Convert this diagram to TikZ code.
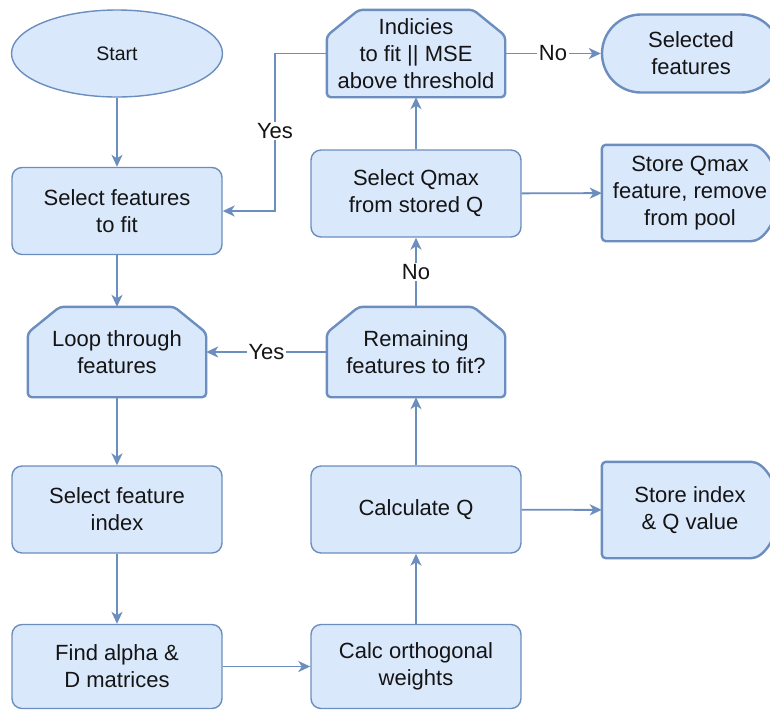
\documentclass[tikz,border=0pt]{standalone}
\usepackage{fontspec}
\setmainfont{Liberation Sans}
\usetikzlibrary{arrows.meta,shapes.geometric}
\definecolor{boxfill}{HTML}{DAE8FC}
\definecolor{boxline}{HTML}{6C8EBF}
\definecolor{ink}{HTML}{141414}
\pgfdeclarelayer{bg}
\pgfsetlayers{bg,main}

% frame of a loop-limit box: top corners cut off
\newcommand\chamferframe[1]{%
  \begin{pgfonlayer}{bg}
    \draw[heavyframe]
      ([yshift=-26pt]#1.north west) -- ([xshift=32pt]#1.north west)
      -- ([xshift=-32pt]#1.north east) -- ([yshift=-26pt]#1.north east)
      -- (#1.south east) -- (#1.south west) -- cycle;
  \end{pgfonlayer}}

% frame of a storage box: flat left side, bulging right side
\newcommand\delayframe[1]{%
  \begin{pgfonlayer}{bg}
    \draw[heavyframe]
      ([xshift=-31pt]#1.north east)
      .. controls ([xshift=-14pt]#1.north east) and ([yshift=26pt]#1.east) .. (#1.east)
      .. controls ([yshift=-26pt]#1.east) and ([xshift=-14pt]#1.south east) .. ([xshift=-31pt]#1.south east)
      -- (#1.south west) -- (#1.north west) -- cycle;
  \end{pgfonlayer}}

\begin{document}
\begin{tikzpicture}[x=1pt,y=-1pt,
  every node/.style={font=\fontsize{22}{27}\selectfont, text=ink, align=center, inner sep=0pt},
  proc/.style={draw=boxline, fill=boxfill, line width=1.4pt, rounded corners=10pt,
    minimum width=210pt, minimum height=87pt},
  startbox/.style={ellipse, draw=boxline, fill=boxfill, line width=1.4pt,
    minimum width=211pt, minimum height=87pt, font=\fontsize{19.5}{23}\selectfont},
  hollow/.style={minimum width=178pt, minimum height=90pt},
  store/.style={minimum width=176pt, minimum height=96pt},
  terminal/.style={draw=boxline, fill=boxfill, line width=2.4pt, rounded corners=39pt,
    minimum width=178pt, minimum height=78pt},
  heavyframe/.style={draw=boxline, fill=boxfill, line width=2.4pt, rounded corners=4pt, line join=round},
  edge/.style={draw=boxline, line width=1.9pt, -{Stealth[length=12pt,width=11pt,inset=3.5pt]}},
  tag/.style={fill=white, inner sep=1.5pt}
]
\useasboundingbox (0,0) rectangle (770,710);
\clip (0,0) rectangle (770,710);

% left column
\node[startbox] (start) at (117,53.5) {Start};
\node[proc] (sel) at (117,211) {Select features\\to fit};
\node[hollow] (loop) at (117,352) {Loop through\\features};
\chamferframe{loop}
\node[proc] (idx) at (117,509.5) {Select feature\\index};
\node[proc, minimum height=84pt] (find) at (117,666.5) {Find alpha \&\\D matrices};

% middle column
\node[proc, minimum height=84pt] (calc) at (416,666.5) {Calc orthogonal\\weights};
\node[proc] (q) at (416,509.5) {Calculate Q};
\node[hollow] (rem) at (416,352) {Remaining\\features to fit?};
\chamferframe{rem}
\node[proc] (qmax) at (416,193.5) {Select Qmax\\from stored Q};
\node[hollow, minimum height=87pt] (ind) at (416,53.5) {Indicies\\to fit || MSE\\above threshold};
\chamferframe{ind}

% right column
\node[terminal] (done) at (691,53.5) {Selected\\features};
\node[store] (storeq) at (690,193) {Store Qmax\\feature, remove\\from pool};
\delayframe{storeq}
\node[store] (storei) at (690,510) {Store index\\\& Q value};
\delayframe{storei}

% connectors
\coordinate (bend) at (275,53.5);
\draw[edge] (start) -- (sel);
\draw[edge] (sel) -- (loop);
\draw[edge] (loop) -- (idx);
\draw[edge] (idx) -- (find);
\draw[edge] (find) -- (calc);
\draw[edge] (calc) -- (q);
\draw[edge] (q) -- (rem);
\draw[edge] (q) -- (storei);
\draw[edge] (rem) -- node[tag] (yesloop) {Yes} (loop);
\draw[edge] (rem) -- node[tag] (noq) {No} (qmax);
\draw[edge] (qmax) -- (storeq);
\draw[edge] (qmax) -- (ind);
\draw[edge] (ind.west) -- (bend) |- node[tag, pos=0.245] (yesind) {Yes} (sel.east);
\draw[edge] (ind) -- node[tag] (noind) {No} (done);
\end{tikzpicture}
\end{document}
